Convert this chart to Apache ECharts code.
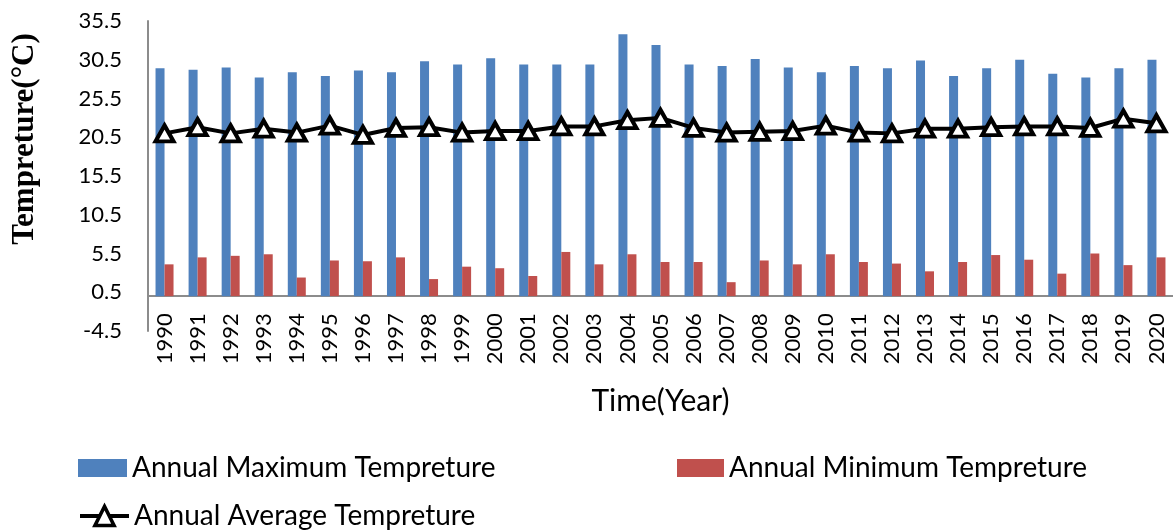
<!DOCTYPE html>
<html>
<head>
<meta charset="utf-8">
<script src="https://cdn.jsdelivr.net/npm/echarts@6/dist/echarts.min.js"></script>
<style>
  html, body { margin: 0; padding: 0; background: #ffffff; }
  #chart { width: 1173px; height: 531px; }
</style>
</head>
<body>
<div id="chart"></div>
<script>
// Yearly temperature records, 1990–2020 (°C)
const years = ['1990','1991','1992','1993','1994','1995','1996','1997','1998','1999',
  '2000','2001','2002','2003','2004','2005','2006','2007','2008','2009',
  '2010','2011','2012','2013','2014','2015','2016','2017','2018','2019','2020'];

const maxTemp = [29.4, 29.2, 29.5, 28.2, 28.9, 28.4, 29.1, 28.9, 30.3, 29.9,
  30.7, 29.9, 29.9, 29.9, 33.8, 32.4, 29.9, 29.7, 30.6, 29.5,
  28.9, 29.7, 29.4, 30.4, 28.4, 29.4, 30.5, 28.7, 28.2, 29.4, 30.5];

const minTemp = [4.1, 5.0, 5.2, 5.4, 2.4, 4.6, 4.5, 5.0, 2.2, 3.8,
  3.6, 2.6, 5.7, 4.1, 5.4, 4.4, 4.4, 1.8, 4.6, 4.1,
  5.4, 4.4, 4.2, 3.2, 4.4, 5.3, 4.7, 2.9, 5.5, 4.0, 5.0];

const avgTemp = [21.0, 21.8, 21.0, 21.6, 21.1, 22.0, 20.8, 21.7, 21.8, 21.1,
  21.3, 21.3, 21.9, 21.9, 22.7, 23.0, 21.7, 21.1, 21.2, 21.3,
  22.0, 21.1, 21.0, 21.6, 21.6, 21.8, 21.9, 21.9, 21.7, 22.9, 22.3];

const seriesNames = ['Annual Maximum Tempreture', 'Annual Minimum Tempreture', 'Annual Average Tempreture'];
const yTitle = 'Tempreture(°C)';
const xTitle = 'Time(Year)';

const yMin = -4.5, yMax = 35.5;
const gridTop = 21, gridHeight = 310;
// the category axis crosses the value axis at 0
const zeroShift = gridHeight * (0 - yMin) / (yMax - yMin);

const sans = 'Lato, "Open Sans", sans-serif';
const legendText = { fontFamily: sans, fontSize: 28, color: '#000' };

const chart = echarts.init(document.getElementById('chart'), null, { renderer: 'canvas' });

chart.setOption({
  backgroundColor: '#ffffff',
  animation: false,
  grid: { left: 148, top: gridTop, width: 1025, height: gridHeight, containLabel: false },
  graphic: [{
    type: 'text',
    x: 25, y: 139,
    rotation: Math.PI / 2,
    style: {
      text: yTitle,
      font: 'bold 31px "Liberation Serif", "Times New Roman", serif',
      fill: '#000',
      align: 'center',
      verticalAlign: 'middle'
    }
  }],
  legend: [
    {
      data: [seriesNames[0]], left: 78, top: 454, padding: 0,
      itemWidth: 49, itemHeight: 18, textStyle: legendText, icon: 'rect'
    },
    {
      data: [seriesNames[1]], left: 677, top: 454, padding: 0,
      itemWidth: 47, itemHeight: 18, textStyle: legendText, icon: 'rect'
    },
    {
      data: [seriesNames[2]], left: 78, top: 502, padding: 0,
      itemWidth: 49, itemHeight: 24, textStyle: legendText,
      lineStyle: { width: 4, color: '#000' },
      itemStyle: { color: '#ffffff', borderColor: '#000', borderWidth: 3.5 }
    }
  ],
  xAxis: {
    type: 'category',
    data: years,
    offset: -zeroShift,
    name: xTitle,
    nameLocation: 'middle',
    nameGap: 90,
    nameMoveOverlap: false,
    nameTextStyle: { fontFamily: sans, fontSize: 30, color: '#000' },
    axisLine: { show: true, onZero: false, lineStyle: { color: '#8c8c8c', width: 2 } },
    axisTick: { show: false },
    axisLabel: { rotate: 90, margin: 17, fontFamily: sans, fontSize: 22, color: '#000', interval: 0 }
  },
  yAxis: {
    type: 'value',
    min: yMin, max: yMax, interval: 5,
    axisLine: { show: true, lineStyle: { color: '#8c8c8c', width: 2 } },
    axisTick: { show: false },
    splitLine: { show: false },
    axisLabel: {
      margin: 26, fontFamily: sans, fontSize: 22, color: '#000',
      formatter: v => v.toFixed(1)
    }
  },
  series: [
    {
      name: seriesNames[0], type: 'bar', data: maxTemp,
      barWidth: 9, barGap: '0%',
      itemStyle: { color: '#4f81bd' }
    },
    {
      name: seriesNames[1], type: 'bar', data: minTemp,
      barWidth: 9, barGap: '0%',
      itemStyle: { color: '#c0504d' }
    },
    {
      name: seriesNames[2], type: 'line', data: avgTemp,
      z: 5,
      symbol: 'triangle', symbolSize: [18, 16],
      lineStyle: { color: '#000', width: 4 },
      itemStyle: { color: '#ffffff', borderColor: '#000', borderWidth: 4 }
    }
  ]
});
</script>
</body>
</html>
